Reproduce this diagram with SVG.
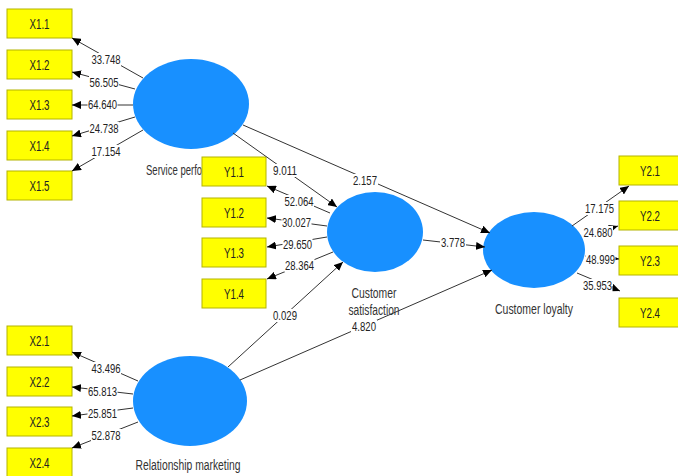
<svg xmlns="http://www.w3.org/2000/svg" width="678" height="476" viewBox="0 0 678 476">
<style>
.bg{fill:#ffffff}
.box{fill:#ffff00;stroke:#b4b400;stroke-width:1}
.lv{fill:#1890ff}
.bt{font-family:"Liberation Sans",Arial,sans-serif;font-size:14px;fill:#222;text-anchor:middle}
.nl{font-family:"Liberation Sans",Arial,sans-serif;font-size:14px;fill:#333;text-anchor:middle}
.e{stroke:#333;stroke-width:1;fill:none;marker-end:url(#ah)}
.lb{fill:#ffffff}
.nt{font-family:"Liberation Sans",Arial,sans-serif;font-size:13px;fill:#222;text-anchor:middle}
</style>
<defs>
<marker id="ah" markerWidth="9" markerHeight="8" refX="9" refY="4" orient="auto" markerUnits="userSpaceOnUse">
<path d="M0,0 L9,4 L0,8 Z" fill="#000"/>
</marker>
</defs>
<rect class="bg" width="678" height="476"/>

<g id="service-performance">
<ellipse class="lv" cx="191" cy="104" rx="58" ry="45"/>
<text class="nl" transform="translate(146,175) scale(0.68,1)" x="0" y="0" style="text-anchor:start">Service perfo</text>
</g>
<g id="customer-satisfaction">
<ellipse class="lv" cx="375" cy="232" rx="48" ry="40"/>
<text class="nl" x="374" y="298" textLength="45" lengthAdjust="spacingAndGlyphs">Customer</text>
<text class="nl" x="374" y="315" textLength="51" lengthAdjust="spacingAndGlyphs">satisfaction</text>
</g>
<g id="customer-loyalty">
<ellipse class="lv" cx="534" cy="250" rx="51" ry="38"/>
<text class="nl" x="534" y="314" textLength="78" lengthAdjust="spacingAndGlyphs">Customer loyalty</text>
</g>
<g id="relationship-marketing">
<ellipse class="lv" cx="190" cy="401" rx="57" ry="45"/>
<text class="nl" x="188" y="470" textLength="105" lengthAdjust="spacingAndGlyphs">Relationship marketing</text>
</g>

<g id="X1.1"><rect class="box" x="7" y="9" width="65" height="29"/><text class="bt" x="39.5" y="28.5" textLength="20" lengthAdjust="spacingAndGlyphs">X1.1</text></g>
<g id="X1.2"><rect class="box" x="7" y="50" width="65" height="29"/><text class="bt" x="39.5" y="69.5" textLength="20" lengthAdjust="spacingAndGlyphs">X1.2</text></g>
<g id="X1.3"><rect class="box" x="7" y="90" width="65" height="29"/><text class="bt" x="39.5" y="109.5" textLength="20" lengthAdjust="spacingAndGlyphs">X1.3</text></g>
<g id="X1.4"><rect class="box" x="7" y="131" width="65" height="29"/><text class="bt" x="39.5" y="150.5" textLength="20" lengthAdjust="spacingAndGlyphs">X1.4</text></g>
<g id="X1.5"><rect class="box" x="7" y="171" width="65" height="29"/><text class="bt" x="39.5" y="190.5" textLength="20" lengthAdjust="spacingAndGlyphs">X1.5</text></g>

<g id="Y1.1"><rect class="box" x="202" y="157" width="64" height="29"/><text class="bt" x="234" y="176.5" textLength="20" lengthAdjust="spacingAndGlyphs">Y1.1</text></g>
<g id="Y1.2"><rect class="box" x="202" y="198" width="64" height="29"/><text class="bt" x="234" y="217.5" textLength="20" lengthAdjust="spacingAndGlyphs">Y1.2</text></g>
<g id="Y1.3"><rect class="box" x="202" y="238" width="64" height="29"/><text class="bt" x="234" y="257.5" textLength="20" lengthAdjust="spacingAndGlyphs">Y1.3</text></g>
<g id="Y1.4"><rect class="box" x="202" y="279" width="64" height="29"/><text class="bt" x="234" y="298.5" textLength="20" lengthAdjust="spacingAndGlyphs">Y1.4</text></g>

<g id="Y2.1"><rect class="box" x="619" y="156" width="64" height="29"/><text class="bt" x="650" y="175.5" textLength="20" lengthAdjust="spacingAndGlyphs">Y2.1</text></g>
<g id="Y2.2"><rect class="box" x="619" y="201" width="64" height="29"/><text class="bt" x="650" y="220.5" textLength="20" lengthAdjust="spacingAndGlyphs">Y2.2</text></g>
<g id="Y2.3"><rect class="box" x="619" y="246" width="64" height="29"/><text class="bt" x="650" y="265.5" textLength="20" lengthAdjust="spacingAndGlyphs">Y2.3</text></g>
<g id="Y2.4"><rect class="box" x="619" y="298" width="64" height="29"/><text class="bt" x="650" y="317.5" textLength="20" lengthAdjust="spacingAndGlyphs">Y2.4</text></g>

<g id="X2.1"><rect class="box" x="7" y="326" width="65" height="29"/><text class="bt" x="39.5" y="345.5" textLength="20" lengthAdjust="spacingAndGlyphs">X2.1</text></g>
<g id="X2.2"><rect class="box" x="7" y="367" width="65" height="29"/><text class="bt" x="39.5" y="386.5" textLength="20" lengthAdjust="spacingAndGlyphs">X2.2</text></g>
<g id="X2.3"><rect class="box" x="7" y="407" width="65" height="29"/><text class="bt" x="39.5" y="426.5" textLength="20" lengthAdjust="spacingAndGlyphs">X2.3</text></g>
<g id="X2.4"><rect class="box" x="7" y="448" width="65" height="29"/><text class="bt" x="39.5" y="467.5" textLength="20" lengthAdjust="spacingAndGlyphs">X2.4</text></g>

<g id="connectors">
<line class="e" x1="143" y1="78" x2="72" y2="38"/>
<line class="e" x1="135" y1="89" x2="72" y2="72"/>
<line class="e" x1="133" y1="105" x2="72" y2="105"/>
<line class="e" x1="135" y1="117" x2="72" y2="136"/>
<line class="e" x1="143" y1="130" x2="72" y2="171"/>
<line class="e" x1="330" y1="213" x2="267" y2="186"/>
<line class="e" x1="327" y1="226" x2="267" y2="218"/>
<line class="e" x1="327" y1="237" x2="267" y2="247"/>
<line class="e" x1="333" y1="252" x2="267" y2="279"/>
<line class="e" x1="572" y1="226" x2="629" y2="186"/>
<line class="e" x1="583" y1="237" x2="618" y2="226"/>
<line class="e" x1="585" y1="256" x2="619" y2="259"/>
<line class="e" x1="577" y1="273" x2="620" y2="291"/>
<line class="e" x1="233" y1="133" x2="337" y2="207"/>
<line class="e" x1="243" y1="125" x2="490" y2="233"/>
<line class="e" x1="423" y1="240" x2="485" y2="247"/>
<line class="e" x1="228" y1="367" x2="343" y2="262"/>
<line class="e" x1="240" y1="380" x2="492" y2="270"/>
<line class="e" x1="138" y1="381" x2="72" y2="352"/>
<line class="e" x1="133" y1="394" x2="72" y2="387"/>
<line class="e" x1="133" y1="408" x2="72" y2="416"/>
<line class="e" x1="138" y1="422" x2="72" y2="448"/>
</g>

<g id="connector-labels">
<rect class="lb" x="91" y="53" width="30" height="13"/><text class="nt" x="106" y="64" textLength="29" lengthAdjust="spacingAndGlyphs">33.748</text>
<rect class="lb" x="89" y="76" width="30" height="13"/><text class="nt" x="104" y="87" textLength="29" lengthAdjust="spacingAndGlyphs">56.505</text>
<rect class="lb" x="87.5" y="98" width="30" height="13"/><text class="nt" x="102.5" y="109" textLength="29" lengthAdjust="spacingAndGlyphs">64.640</text>
<rect class="lb" x="89" y="122" width="30" height="13"/><text class="nt" x="104" y="133" textLength="29" lengthAdjust="spacingAndGlyphs">24.738</text>
<rect class="lb" x="91" y="145" width="30" height="13"/><text class="nt" x="106" y="156" textLength="29" lengthAdjust="spacingAndGlyphs">17.154</text>

<rect class="lb" x="284" y="195" width="30" height="13"/><text class="nt" x="299" y="206" textLength="29" lengthAdjust="spacingAndGlyphs">52.064</text>
<rect class="lb" x="281.5" y="216" width="30" height="13"/><text class="nt" x="296.5" y="227" textLength="29" lengthAdjust="spacingAndGlyphs">30.027</text>
<rect class="lb" x="282.5" y="238" width="30" height="13"/><text class="nt" x="297.5" y="249" textLength="29" lengthAdjust="spacingAndGlyphs">29.650</text>
<rect class="lb" x="284.5" y="259" width="30" height="13"/><text class="nt" x="299.5" y="270" textLength="29" lengthAdjust="spacingAndGlyphs">28.364</text>

<rect class="lb" x="584.5" y="202" width="30" height="13"/><text class="nt" x="599.5" y="213" textLength="29" lengthAdjust="spacingAndGlyphs">17.175</text>
<rect class="lb" x="583" y="226" width="30" height="13"/><text class="nt" x="598" y="237" textLength="29" lengthAdjust="spacingAndGlyphs">24.680</text>
<rect class="lb" x="585.5" y="253" width="30" height="13"/><text class="nt" x="600.5" y="264" textLength="29" lengthAdjust="spacingAndGlyphs">48.999</text>
<rect class="lb" x="582.5" y="279" width="30" height="13"/><text class="nt" x="597.5" y="290" textLength="29" lengthAdjust="spacingAndGlyphs">35.953</text>

<rect class="lb" x="272" y="164" width="26" height="13"/><text class="nt" x="285" y="175" textLength="24" lengthAdjust="spacingAndGlyphs">9.011</text>
<rect class="lb" x="352" y="174" width="26" height="13"/><text class="nt" x="365" y="185" textLength="24" lengthAdjust="spacingAndGlyphs">2.157</text>
<rect class="lb" x="440" y="236" width="26" height="13"/><text class="nt" x="453" y="247" textLength="24" lengthAdjust="spacingAndGlyphs">3.778</text>
<rect class="lb" x="272" y="309" width="26" height="13"/><text class="nt" x="285" y="320" textLength="24" lengthAdjust="spacingAndGlyphs">0.029</text>
<rect class="lb" x="351" y="320" width="26" height="13"/><text class="nt" x="364" y="331" textLength="24" lengthAdjust="spacingAndGlyphs">4.820</text>

<rect class="lb" x="91" y="362" width="30" height="13"/><text class="nt" x="106" y="373" textLength="29" lengthAdjust="spacingAndGlyphs">43.496</text>
<rect class="lb" x="87.5" y="385" width="30" height="13"/><text class="nt" x="102.5" y="396" textLength="29" lengthAdjust="spacingAndGlyphs">65.813</text>
<rect class="lb" x="87.5" y="407" width="30" height="13"/><text class="nt" x="102.5" y="418" textLength="29" lengthAdjust="spacingAndGlyphs">25.851</text>
<rect class="lb" x="91" y="429" width="30" height="13"/><text class="nt" x="106" y="440" textLength="29" lengthAdjust="spacingAndGlyphs">52.878</text>
</g>
</svg>
